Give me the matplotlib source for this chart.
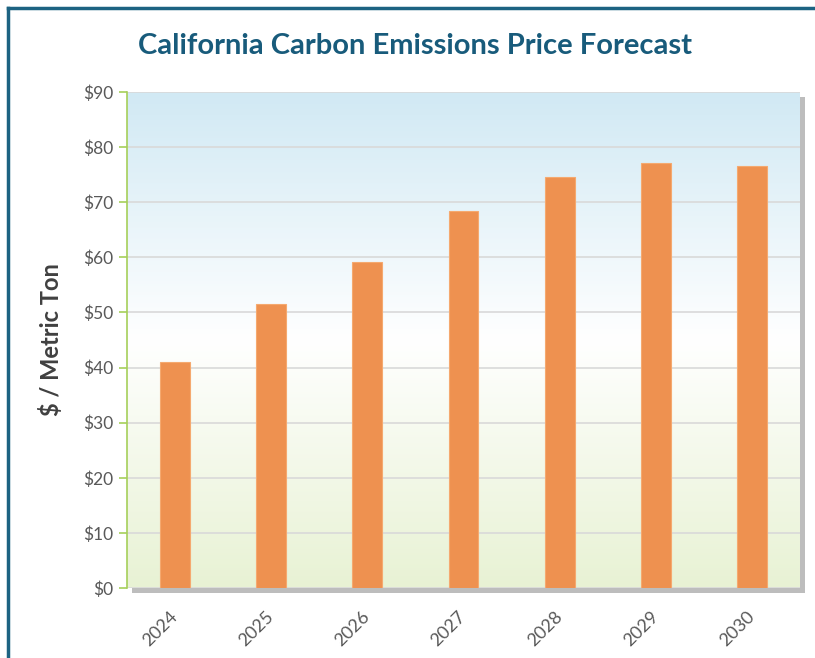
import numpy as np
import matplotlib.pyplot as plt
from matplotlib.colors import LinearSegmentedColormap
from matplotlib.patches import Rectangle

years = ['2024', '2025', '2026', '2027', '2028', '2029', '2030']
prices = [41.0, 51.5, 59.2, 68.4, 74.5, 77.2, 76.5]
y_ticks = [0, 10, 20, 30, 40, 50, 60, 70, 80, 90]
y_labels = ['$' + str(t) for t in y_ticks]

plt.rcParams['font.family'] = ['Lato', 'DejaVu Sans']

fig = plt.figure(figsize=(8.15, 6.58), dpi=100)
fig.patch.set_facecolor('white')

# outer frame (bottom edge is cut off in the original)
frame_col = '#1d6382'
fig.add_artist(plt.Line2D([8 / 815, 8 / 815], [0, 1 - 8 / 658], color=frame_col, lw=2.5, transform=fig.transFigure))
fig.add_artist(plt.Line2D([8 / 815, 1], [1 - 8 / 658, 1 - 8 / 658], color=frame_col, lw=2.5, transform=fig.transFigure))

left, right, top, bottom = 127 / 815, 800 / 815, 92 / 658, 588 / 658
ax = fig.add_axes([left, 1 - bottom, right - left, bottom - top])

# drop shadow behind the plot area
fig.add_artist(Rectangle((left + 5 / 815, 1 - bottom - 5 / 658), right - left, bottom - top,
                         transform=fig.transFigure, facecolor='#bdbdbd', edgecolor='none', zorder=0))
ax.set_zorder(1)

# gradient background: blue on top, white in the middle, green at bottom
cmap = LinearSegmentedColormap.from_list('bg', [(0, '#e8f2d4'), (0.5, '#ffffff'), (1, '#d1e9f4')])
grad = np.linspace(0, 1, 256).reshape(-1, 1)
ax.imshow(grad, cmap=cmap, aspect='auto', extent=[-0.5, len(years) - 0.5, 0, 90],
          origin='lower', zorder=0)

x = np.arange(len(years))
ax.bar(x, prices, width=0.31, color='#ee9150', edgecolor='#f5a96f', linewidth=0.8, zorder=3)

ax.set_xlim(-0.5, len(years) - 0.5)
ax.set_ylim(0, 90)
ax.set_yticks(y_ticks)
ax.set_yticklabels(y_labels)
ax.set_xticks(x)
ax.set_xticklabels(years, rotation=45, ha='right', va='center', rotation_mode='anchor')
ax.yaxis.grid(True, color='#d9d9d9', lw=1.2, zorder=1)
ax.set_axisbelow(True)

for s in ['top', 'right', 'bottom']:
    ax.spines[s].set_visible(False)
ax.spines['left'].set_color('#a6cf5a')
ax.spines['left'].set_linewidth(1.2)

ax.tick_params(axis='y', colors='#a6cf5a', length=6, width=1.2, labelcolor='#595959', labelsize=12.5, pad=4)
ax.tick_params(axis='x', length=0, labelcolor='#595959', labelsize=13, pad=19)

ax.set_ylabel('$ / Metric Ton', fontsize=17, fontweight='bold', color='#404040', labelpad=14)
fig.text(415 / 815, 1 - 46 / 658, 'California Carbon Emissions Price Forecast',
         fontsize=21, fontweight='bold', color='#185b7b', ha='center', va='center')

fig.savefig('out.png', dpi=100)
